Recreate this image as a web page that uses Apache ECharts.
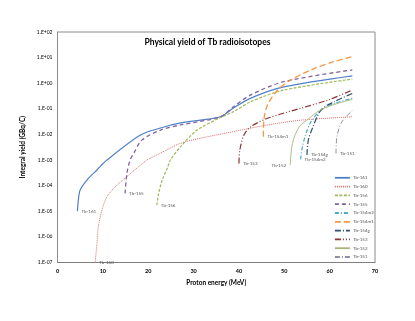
<!DOCTYPE html>
<html>
<head>
<meta charset="utf-8">
<script src="https://cdn.jsdelivr.net/npm/echarts@6/dist/echarts.min.js"></script>
<style>
  html, body { margin: 0; padding: 0; background: #fff; }
  #chart { width: 415px; height: 321px; }
</style>
</head>
<body>
<div id="chart"></div>
<script>
// energies (MeV) and integral yields (GBq/C)
const tb161E = [4.4, 4.6, 5.0, 6.5, 8.7, 10.9, 18.3, 22.7, 27.1, 31.5, 35.9, 38.8, 42.6, 49.9, 65];
const tb161Y = [1e-5, 2.8e-5, 6.8e-5, 1.66e-4, 4.1e-4, 1e-3, 0.0095, 0.0178, 0.0282, 0.0363, 0.049, 0.107, 0.263, 0.72, 1.95];

const tb160E = [8.3, 8.7, 9.0, 9.8, 10.9, 13.1, 15.3, 19.7, 21.9, 27.1, 31.5, 38.8, 46.3, 53.8, 65];
const tb160Y = [1e-7, 5.6e-7, 2.5e-6, 1.12e-5, 3.7e-5, 1.05e-4, 2.24e-4, 1e-3, 1.58e-3, 4.5e-3, 7.1e-3, 0.0129, 0.0234, 0.0363, 0.049];

const tb156E = [21.9, 22.3, 23.1, 24.2, 24.9, 27.1, 30.8, 35.9, 38.8, 42.6, 49.9, 65];
const tb156Y = [1.74e-5, 5e-5, 1.66e-4, 4.8e-4, 1e-3, 3.3e-3, 0.0148, 0.0457, 0.0776, 0.19, 0.54, 1.45];

const tb155E = [14.9, 15.3, 16.0, 16.8, 18.6, 22.7, 27.1, 35.9, 38.8, 42.6, 49.9, 65];
const tb155Y = [5e-5, 3e-4, 1e-3, 1.82e-3, 6e-3, 0.0148, 0.0234, 0.049, 0.12, 0.35, 1.15, 3.3];

const tb154m2E = [53.6, 54.0, 54.8, 55.9, 58.1, 61.0, 65];
const tb154m2Y = [1.07e-3, 3.3e-3, 0.011, 0.0316, 0.089, 0.162, 0.257];

const tb154m1E = [45.4, 45.5, 46.3, 48.5, 51.4, 55.9, 60.9, 65];
const tb154m1Y = [8.1e-3, 0.036, 0.141, 0.54, 1.33, 3.3, 6.9, 11];

const tb154gE = [55.0, 55.3, 56.2, 58.1, 61.0, 65];
const tb154gY = [1.58e-3, 6e-3, 0.0174, 0.089, 0.19, 0.4];

const tb153E = [40.0, 40.2, 41.1, 42.6, 46.3, 53.6, 59.6, 65];
const tb153Y = [7.4e-4, 2.45e-3, 9.5e-3, 0.02, 0.0427, 0.105, 0.219, 0.54];

const tb152E = [51.3, 51.8, 53.3, 55.5, 57.7, 60.6, 65];
const tb152Y = [6.3e-4, 4.5e-3, 0.02, 0.0427, 0.085, 0.141, 0.234];

const tb151E = [61.4, 61.6, 62.5, 63.6, 65];
const tb151Y = [1.82e-3, 8.1e-3, 0.0269, 0.049, 0.085];

const names = ["Tb-161", "Tb-160", "Tb-156", "Tb-155", "Tb-154m2", "Tb-154m1", "Tb-154g", "Tb-153", "Tb-152", "Tb-151"];

let myChart = echarts.init(document.getElementById("chart"));
const FONT = "Lato";

function makeSeries(name, xs, ys, color, width, dash, labelPos) {
  let data = [];
  for (let i = 0; i < xs.length; i++) {
    data.push([xs[i], ys[i]]);
  }
  return {
    name: name,
    type: "line",
    symbol: "none",
    smooth: 0.3,
    data: data,
    lineStyle: { color: color, width: width, type: dash },
    itemStyle: { color: color },
    markPoint: {
      symbolSize: 0,
      silent: true,
      data: [{
        coord: [xs[0], ys[0]],
        label: {
          show: true,
          position: labelPos || "right",
          distance: 4,
          formatter: name,
          fontSize: 4.5,
          color: "#595959",
          fontFamily: FONT,
        },
      }],
    },
  };
}

function expLabel(v) {
  let e = Math.round(Math.log10(v));
  let s = Math.abs(e) < 10 ? "0" + Math.abs(e) : "" + Math.abs(e);
  return "1.E" + (e < 0 ? "-" : "+") + s;
}

let option = {
  animation: false,
  backgroundColor: "#fff",
  title: {
    text: "Physical yield of Tb radioisotopes",
    left: "center",
    top: 33,
    textStyle: { fontSize: 8.5, fontWeight: "bold", color: "#000", fontFamily: FONT },
  },
  grid: {
    left: 57.5,
    right: 40,
    top: 32,
    bottom: 58.5,
    show: true,
    borderColor: "#8c8c8c",
    borderWidth: 1,
  },
  legend: {
    data: names,
    orient: "vertical",
    left: 334,
    top: 175,
    padding: 0,
    itemWidth: 15,
    itemHeight: 4,
    itemGap: 3.2,
    itemStyle: { opacity: 0 },
    lineStyle: { width: 1.8 },
    textStyle: { fontSize: 4.5, lineHeight: 5.6, color: "#595959", fontFamily: FONT, padding: [0, 0, 0, -2] },
  },
  xAxis: {
    type: "value",
    min: 0,
    max: 70,
    interval: 10,
    name: "Proton energy (MeV)",
    nameLocation: "middle",
    nameGap: 17,
    nameTextStyle: { fontSize: 6.5, fontWeight: "bold", color: "#000", fontFamily: FONT },
    axisLine: { lineStyle: { color: "#7f7f7f", width: 1.2 } },
    axisTick: { show: false },
    splitLine: { show: false },
    axisLabel: { fontSize: 5.5, fontWeight: "bold", color: "#000", margin: 6, fontFamily: FONT },
  },
  yAxis: {
    type: "log",
    logBase: 10,
    min: 1e-7,
    max: 100,
    name: "Integral yield (GBq/C)",
    nameLocation: "middle",
    nameGap: 22,
    nameTextStyle: { fontSize: 6.5, fontWeight: "bold", color: "#000", fontFamily: FONT },
    axisLine: { show: true, lineStyle: { color: "#8c8c8c" } },
    axisTick: { show: false },
    splitLine: { show: false },
    axisLabel: { fontSize: 5, color: "#000", margin: 5, fontFamily: FONT, formatter: expLabel },
  },
  series: [
    makeSeries("Tb-161", tb161E, tb161Y, "#4F81C8", 1.2, "solid"),
    makeSeries("Tb-160", tb160E, tb160Y, "#E06A6A", 1, [1, 1]),
    makeSeries("Tb-156", tb156E, tb156Y, "#9BBB59", 1.2, [3, 1.5]),
    makeSeries("Tb-155", tb155E, tb155Y, "#8064A2", 1.3, [4, 3]),
    makeSeries("Tb-154m2", tb154m2E, tb154m2Y, "#4BACC6", 1.2, [4, 2, 1, 2]),
    makeSeries("Tb-154m1", tb154m1E, tb154m1Y, "#F79646", 1.3, [6, 3]),
    makeSeries("Tb-154g", tb154gE, tb154gY, "#2C4D75", 1.2, [6, 2, 1, 2]),
    makeSeries("Tb-153", tb153E, tb153Y, "#8B3333", 1.2, [6, 2, 1, 2, 1, 2]),
    makeSeries("Tb-152", tb152E, tb152Y, "#A6B47A", 0.9, "solid", "left"),
    makeSeries("Tb-151", tb151E, tb151Y, "#8E8EA8", 1, [5, 2, 1, 2]),
  ],
};
myChart.setOption(option);
</script>
</body>
</html>
